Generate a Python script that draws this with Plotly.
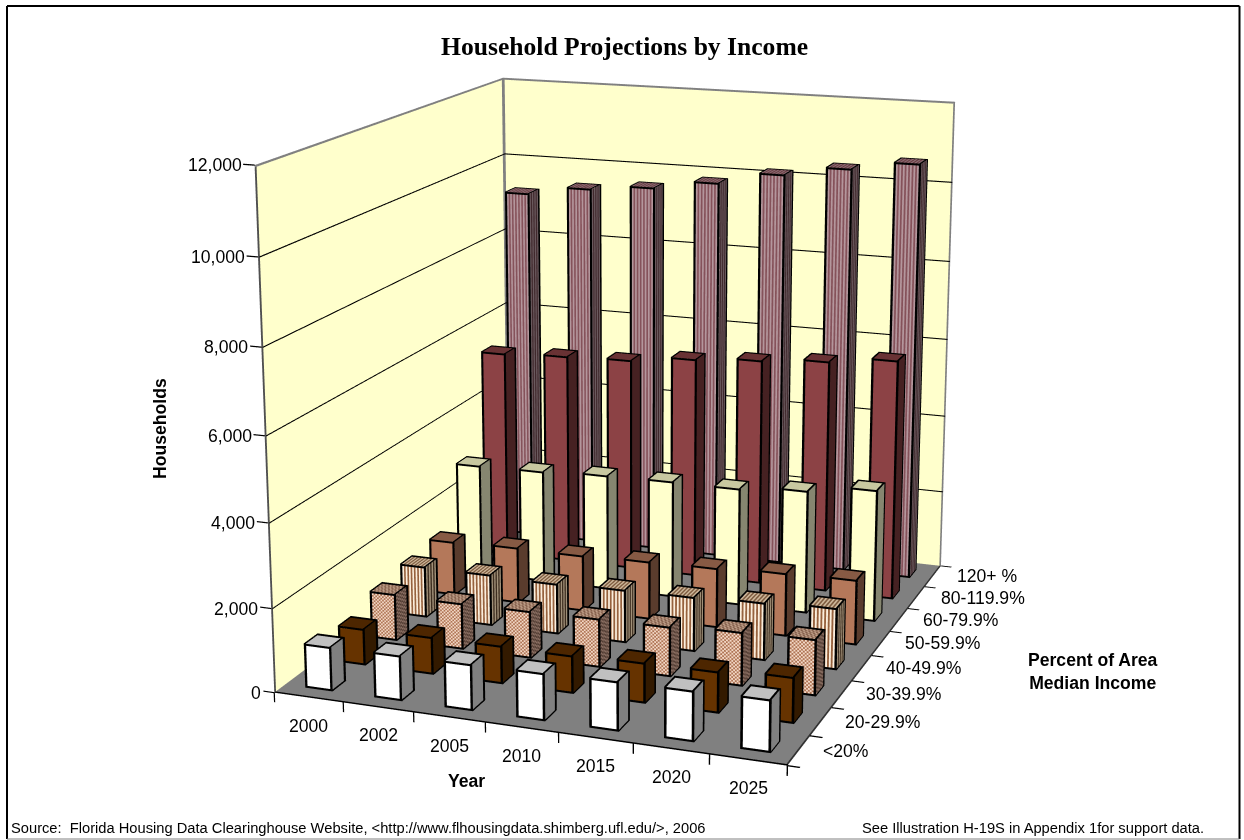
import numpy as np
import plotly.graph_objects as go

years = ["2000", "2002", "2005", "2010", "2015", "2020", "2025"]
bands = ["<20%", "20-29.9%", "30-39.9%", "40-49.9%", "50-59.9%", "60-79.9%", "80-119.9%", "120+ %"]
under_20 = [1060, 1080, 1100, 1120, 1160, 1180, 1215]
from_20 = [895, 915, 925, 915, 970, 990, 1090]
from_30 = [1170, 1150, 1170, 1200, 1220, 1310, 1360]
from_40 = [1300, 1300, 1275, 1330, 1360, 1430, 1510]
from_50 = [1395, 1440, 1435, 1480, 1515, 1590, 1630]
from_60 = [2875, 2900, 2975, 3000, 3000, 3125, 3325]
from_80 = [5380, 5455, 5505, 5680, 5800, 5925, 6100]
from_120 = [9230, 9460, 9600, 9830, 10150, 10400, 10630]
z_ticks = [0, 2000, 4000, 6000, 8000, 10000, 12000]

# Plot div size and how far it is slid above the page top: the scene's lens is
# fixed, so a long focal length needs a tall scene with its centre near y=362.
W, H = 1264, 2166
VIEW_TOP = 721
Z_PAD = 300
X_PAD = 0.2
Y_PAD = 0.05
eye = np.array([1.70028, -4.64264, 1.32230])
center = np.array([0.00046, 0.01191, 0.04193])
up = np.array([-0.08517, 0.23523, 0.96820])
aspect = (1.00090 * (7 + 2 * X_PAD) / 7, 1.13775 * (8 + 2 * Y_PAD) / 8, (12000 + 2 * Z_PAD) / 12000)

series = [
    dict(name=bands[0], vals=under_20, kind="solid", front="#FFFFFF", top="#C0C0C0", side="#808080"),
    dict(name=bands[1], vals=from_20, kind="solid", front="#663300", top="#4D2600", side="#331A00"),
    dict(name=bands[2], vals=from_30, kind="check", front=("#F3D8C6", "#AE7454"), top=("#BE9E88", "#845F4C"), side=("#8A6E62", "#523D33")),
    dict(name=bands[3], vals=from_40, kind="stripe", front=("#FBEEDC", "#96623E"), top=("#CDB79A", "#7E5C40"), side=("#A09078", "#3E2E20")),
    dict(name=bands[4], vals=from_50, kind="solid", front="#B4785A", top="#875A44", side="#5A3C2D"),
    dict(name=bands[5], vals=from_60, kind="solid", front="#FFFFCC", top="#C8C8A0", side="#868670"),
    dict(name=bands[6], vals=from_80, kind="solid", front="#8C4245", top="#693234", side="#462122"),
    dict(name=bands[7], vals=from_120, kind="stripe", front=("#B4969C", "#85525A"), top=("#8C6E74", "#6A3C42"), side=("#6A5A5E", "#40282C")),
]


class Mesh:
    """Collects flat-coloured quads for one Mesh3d trace."""

    def __init__(self):
        self.v, self.f, self.c = [], [], []

    def quad(self, o, du, dv, col):
        o, du, dv = (np.array(t, float) for t in (o, du, dv))
        n = len(self.v)
        self.v += [o, o + du, o + du + dv, o + dv]
        self.f += [(n, n + 1, n + 2), (n, n + 2, n + 3)]
        self.c += [col, col]

    def face(self, o, du, dv, nu, nv, pick, tu=0.0, tv=0.0, edges=(None, None, None, None)):
        """Patterned face; edges colour the v0, u1, v1, u0 borders, in the face's own plane."""
        o, du, dv = (np.array(t, float) for t in (o, du, dv))
        e_v0, e_u1, e_v1, e_u0 = edges
        u0, u1 = (tu if e_u0 else 0.0), 1 - (tu if e_u1 else 0.0)
        v0, v1 = (tv if e_v0 else 0.0), 1 - (tv if e_v1 else 0.0)
        if e_v0:
            self.quad(o, du, dv * v0, e_v0)
        if e_v1:
            self.quad(o + dv * v1, du, dv * (1 - v1), e_v1)
        if e_u0:
            self.quad(o + dv * v0, du * u0, dv * (v1 - v0), e_u0)
        if e_u1:
            self.quad(o + du * u1 + dv * v0, du * (1 - u1), dv * (v1 - v0), e_u1)
        base = o + du * u0 + dv * v0
        su, sv = du * (u1 - u0) / nu, dv * (v1 - v0) / nv
        for a in range(nu):
            for b in range(nv):
                self.quad(base + su * a + sv * b, su, sv, pick(a, b))

    def trace(self, name):
        v, f = np.array(self.v), np.array(self.f)
        return go.Mesh3d(x=v[:, 0], y=v[:, 1], z=v[:, 2], i=f[:, 0], j=f[:, 1], k=f[:, 2], facecolor=self.c, name=name,
                         flatshading=True, lighting=dict(ambient=1, diffuse=0, specular=0, roughness=1, fresnel=0),
                         hoverinfo="skip", showscale=False)


fig = go.Figure()

# Walls and floor, with their frame drawn as borders in the same planes
frame = "#808080"
room = Mesh()
room.face((0, 0, 0), (0, 8, 0), (0, 0, 12000), 1, 1, lambda a, b: "#FFFFCC", 0.05 / 8, 50 / 12000, (None, frame, frame, "#505050"))
room.face((0, 8, 0), (7, 0, 0), (0, 0, 12000), 1, 1, lambda a, b: "#FFFFCC", 0.025 / 7, 50 / 12000, (None, frame, frame, frame))
room.face((0, 0, 0), (7, 0, 0), (0, 8, 0), 1, 1, lambda a, b: "#808080", 0.025 / 7, 0.045 / 8, ("#000000", "#303030", None, None))
fig.add_trace(room.trace("walls"))

# Gridlines just in front of the walls, then the axis ticks
rules = Mesh()
for t in z_ticks[1:-1]:
    rules.quad((0.02, 0, t - 14), (0, 7.98, 0), (0, 0, 28), "#000000")
    rules.quad((0.02, 7.98, t - 14), (6.98, 0, 0), (0, 0, 28), "#000000")
for t in z_ticks:
    rules.quad((-0.16, 0, t - 14), (0.16, 0, 0), (0, 0, 28), "#000000")
for i in range(len(years) + 1):
    rules.quad((i - 0.009, 0, -230), (0.018, 0, 0), (0, 0, 230), "#000000")
for j in range(len(bands) + 1):
    rules.quad((7, j - 0.02, 0), (0.16, 0, 0), (0, 0.04, 0), "#000000")
fig.add_trace(rules.trace("rules"))

# One mesh per income band; a bar shows its front, top and right faces
GAP = 0.3
K = "#000000"
for j, s in enumerate(series):
    m = Mesh()
    for i, val in enumerate(s["vals"]):
        x0, x1, y0, y1 = i + GAP, i + 1 - GAP, j + GAP, j + 1 - GAP
        w, d = x1 - x0, y1 - y0
        if s["kind"] == "solid":
            shape = dict(front=(1, 1), top=(1, 1), side=(1, 1))
            pick = lambda tone: (lambda a, b: s[tone])
        elif s["kind"] == "stripe":
            shape = dict(front=(13, 1), top=(13, 1), side=(7, 1))
            pick = lambda tone: (lambda a, b: s[tone][a % 2])
        else:
            nz = max(1, int(val / 46))
            shape = dict(front=(13, nz), top=(13, 6), side=(6, nz))
            pick = lambda tone: (lambda a, b: s[tone][(a + b) % 2])
        # Shared edges are outlined once, by the front face or the top face
        m.face((x0, y0, 0), (w, 0, 0), (0, 0, val), *shape["front"], pick("front"), 0.034 / w, 50 / val, (K, K, K, K))
        m.face((x0, y0, val), (w, 0, 0), (0, d, 0), *shape["top"], pick("top"), 0.03 / w, 0.065 / d, (None, K, K, K))
        m.face((x1, y0, 0), (0, d, 0), (0, 0, val), *shape["side"], pick("side"), 0.065 / d, 46 / val, (K, K, None, None))
    fig.add_trace(m.trace(s["name"]))

font = dict(family="Liberation Sans", color="#000000")
tick_font = dict(size=17.6, **font)
scene_labels = []
for t in z_ticks:
    scene_labels.append(dict(x=0, y=0, z=t, text=f"{t:,}", showarrow=False, xanchor="right", xshift=-11, font=tick_font))
for i, lab in enumerate(years):
    scene_labels.append(dict(x=i + .5, y=0, z=0, text=lab, showarrow=False, xanchor="center", yshift=-28, font=tick_font))
for j, lab in enumerate(bands):
    scene_labels.append(dict(x=7, y=j + .5, z=0, text=lab, showarrow=False, xanchor="left", xshift=22, font=tick_font))


def px(x):
    return x / W


def py(y):
    return 1 - (y + VIEW_TOP) / H


def label(x, y, text, size, xanchor="center", fnt=font, **kw):
    return dict(x=px(x), y=py(y), xref="paper", yref="paper", text=text, showarrow=False, xanchor=xanchor,
                yanchor="middle", font=dict(size=size, **fnt), **kw)


def rule(x0, y0, x1, y1, color, width):
    return dict(type="line", xref="paper", yref="paper", x0=px(x0), x1=px(x1), y0=py(y0), y1=py(y1),
                line=dict(color=color, width=width))


axis = dict(visible=False, autorange=False)
fig.update_layout(
    width=W, height=H, margin=dict(l=0, r=0, t=0, b=0), paper_bgcolor="white", showlegend=False,
    scene=dict(domain=dict(x=[0, 1], y=[0, 1]),
               xaxis=dict(range=[-X_PAD, 7 + X_PAD], **axis), yaxis=dict(range=[-Y_PAD, 8 + Y_PAD], **axis),
               zaxis=dict(range=[-Z_PAD, 12000 + Z_PAD], **axis),
               aspectmode="manual", aspectratio=dict(x=aspect[0], y=aspect[1], z=aspect[2]),
               camera=dict(eye=dict(x=eye[0], y=eye[1], z=eye[2]), center=dict(x=center[0], y=center[1], z=center[2]),
                           up=dict(x=up[0], y=up[1], z=up[2]), projection=dict(type="perspective")),
               annotations=scene_labels),
    shapes=[rule(7, 6, 1239.5, 6, "#000000", 2), rule(7, 6, 7, 839, "#000000", 2), rule(1239.5, 6, 1239.5, 839, "#000000", 2),
            rule(7, 839, 1239.5, 839, "#808080", 1)],
    annotations=[
        label(624, 46, "<b>Household Projections by Income</b>", 25.6, fnt=dict(family="Liberation Serif", color="#000000")),
        label(160, 429, "<b>Households</b>", 17.6, textangle=-90),
        label(466, 781, "<b>Year</b>", 17.6),
        label(1093, 671, "<b>Percent of Area<br>Median Income</b>", 17.6),
        label(9, 827.5, "Source:\u00a0\u00a0Florida Housing Data Clearinghouse Website, &lt;http://www.flhousingdata.shimberg.ufl.edu/&gt;, 2006", 14.7, xanchor="left"),
        label(1206, 827.5, "See Illustration H-19S in Appendix 1for support data.", 14.7, xanchor="right"),
    ])

# Slide the plot div up so the scene centre lands where the view needs it, and stop the page scrolling
shift = ("var g=document.getElementById('{plot_id}');g.style.position='absolute';g.style.left='0';"
         "g.style.top='-%dpx';document.documentElement.style.overflow='hidden';"
         "document.body.style.overflow='hidden';" % VIEW_TOP)
fig.write_html("out.html", post_script=shift)
